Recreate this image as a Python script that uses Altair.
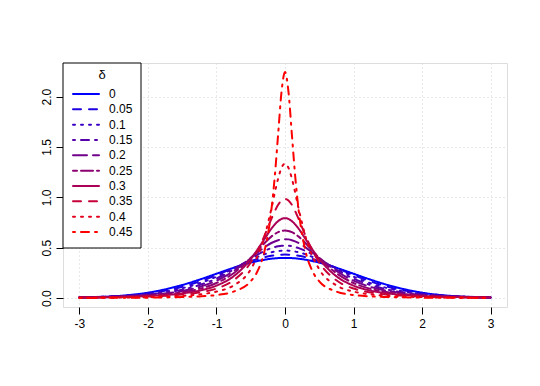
import altair as alt
import pandas as pd

# ---- data ----
DELTAS = ["0", "0.05", "0.1", "0.15", "0.2", "0.25", "0.3", "0.35", "0.4", "0.45"]

X_COMMON = [-3, -2.5, -2, -1.5, -1.25, -1, -0.75, -0.5, -0.3, -0.2, -0.1, -0.05, 0,
            0.05, 0.1, 0.2, 0.3, 0.5, 0.75, 1, 1.25, 1.5, 2, 2.5, 3]

Y_D000 = [0.004, 0.018, 0.054, 0.130, 0.183, 0.242, 0.301, 0.352, 0.381, 0.391, 0.397, 0.398, 0.399,
          0.398, 0.397, 0.391, 0.381, 0.352, 0.301, 0.242, 0.183, 0.130, 0.054, 0.018, 0.004]
Y_D005 = [0.007, 0.018, 0.048, 0.113, 0.165, 0.229, 0.299, 0.366, 0.406, 0.420, 0.429, 0.431, 0.432,
          0.431, 0.429, 0.420, 0.406, 0.366, 0.299, 0.229, 0.165, 0.113, 0.048, 0.018, 0.007]
Y_D010 = [0.008, 0.018, 0.042, 0.098, 0.147, 0.213, 0.294, 0.379, 0.435, 0.455, 0.467, 0.471, 0.472,
          0.471, 0.467, 0.455, 0.435, 0.379, 0.294, 0.213, 0.147, 0.098, 0.042, 0.018, 0.008]
Y_D015 = [0.008, 0.017, 0.036, 0.084, 0.129, 0.194, 0.284, 0.390, 0.468, 0.496, 0.515, 0.520, 0.521,
          0.520, 0.515, 0.496, 0.468, 0.390, 0.284, 0.194, 0.129, 0.084, 0.036, 0.017, 0.008]
Y_D020 = [0.008, 0.015, 0.031, 0.071, 0.111, 0.173, 0.269, 0.398, 0.504, 0.547, 0.575, 0.583, 0.585,
          0.583, 0.575, 0.547, 0.504, 0.398, 0.269, 0.173, 0.111, 0.071, 0.031, 0.015, 0.008]
Y_D025 = [0.007, 0.013, 0.026, 0.059, 0.092, 0.150, 0.247, 0.398, 0.545, 0.610, 0.655, 0.667, 0.671,
          0.667, 0.655, 0.610, 0.545, 0.398, 0.247, 0.150, 0.092, 0.059, 0.026, 0.013, 0.007]
Y_D030 = [0.006, 0.011, 0.021, 0.047, 0.074, 0.124, 0.217, 0.387, 0.586, 0.688, 0.764, 0.786, 0.793,
          0.786, 0.764, 0.688, 0.586, 0.387, 0.217, 0.124, 0.074, 0.047, 0.021, 0.011, 0.006]
Y_D035 = [0.005, 0.008, 0.016, 0.035, 0.056, 0.095, 0.177, 0.353, 0.618, 0.784, 0.926, 0.969, 0.984,
          0.969, 0.926, 0.784, 0.618, 0.353, 0.177, 0.095, 0.056, 0.035, 0.016, 0.008, 0.005]
Y_D040 = [0.003, 0.005, 0.010, 0.023, 0.037, 0.065, 0.126, 0.286, 0.609, 0.884, 1.187, 1.294, 1.334,
          1.294, 1.187, 0.884, 0.609, 0.286, 0.126, 0.065, 0.037, 0.023, 0.010, 0.005, 0.003]

X_D045 = [-3, -2.5, -2, -1.5, -1.25, -1, -0.75, -0.5, -0.4, -0.3, -0.2, -0.15, -0.1, -0.05, 0,
          0.05, 0.1, 0.15, 0.2, 0.3, 0.4, 0.5, 0.75, 1, 1.25, 1.5, 2, 2.5, 3]
Y_D045 = [0.002, 0.003, 0.005, 0.011, 0.017, 0.031, 0.065, 0.167, 0.269, 0.465, 0.868, 1.201, 1.628, 2.052, 2.243,
          2.052, 1.628, 1.201, 0.868, 0.465, 0.269, 0.167, 0.065, 0.031, 0.017, 0.011, 0.005, 0.003, 0.002]

X_TICKS = [-3, -2, -1, 0, 1, 2, 3]
Y_TICKS = [0, 0.5, 1, 1.5, 2]

COLORS = ["#0000FF", "#1C00E2", "#3800C6", "#5500AA", "#71008D",
          "#8D0071", "#AA0055", "#C60038", "#E2001C", "#FF0000"]
DASHES = [[1, 0], [8, 8], [2, 6], [2, 6, 8, 6], [14, 6], [4, 4, 12, 4],
          [1, 0], [8, 8], [2, 6], [2, 6, 8, 6]]

# ---- build long table ----
series = [
    (DELTAS[0], X_COMMON, Y_D000), (DELTAS[1], X_COMMON, Y_D005),
    (DELTAS[2], X_COMMON, Y_D010), (DELTAS[3], X_COMMON, Y_D015),
    (DELTAS[4], X_COMMON, Y_D020), (DELTAS[5], X_COMMON, Y_D025),
    (DELTAS[6], X_COMMON, Y_D030), (DELTAS[7], X_COMMON, Y_D035),
    (DELTAS[8], X_COMMON, Y_D040), (DELTAS[9], X_D045, Y_D045),
]
rows = []
for i, (d, xs, ys) in enumerate(series):
    for x, y in zip(xs, ys):
        rows.append({"delta": d, "k": i, "x": x, "y": y})
df = pd.DataFrame(rows)
leg = pd.DataFrame({"delta": DELTAS})

FONT = "Liberation Sans"
color = alt.Color("delta:N", scale=alt.Scale(domain=DELTAS, range=COLORS), legend=None)
dash = alt.StrokeDash("delta:N", scale=alt.Scale(domain=DELTAS, range=DASHES), legend=None)

curves = alt.Chart(df).mark_line(
    strokeWidth=2, interpolate="monotone", strokeCap="round", strokeJoin="round"
).encode(
    x=alt.X("x:Q", scale=alt.Scale(domain=[-3.24, 3.24], nice=False, zero=False),
            axis=alt.Axis(values=X_TICKS, labelExpr="'' + datum.value", title=None,
                          domain=False, tickColor="black", tickSize=7, tickWidth=1,
                          labelFontSize=12, labelFont=FONT, labelColor="black",
                          labelPadding=4, grid=True, gridColor="#D3D3D3", gridDash=[1, 3])),
    y=alt.Y("y:Q", scale=alt.Scale(domain=[-0.088, 2.333], nice=False, zero=False),
            axis=alt.Axis(values=Y_TICKS, format=".1f", title=None,
                          domain=False, tickColor="black", tickSize=7, tickWidth=1,
                          labelFontSize=12, labelFont=FONT, labelColor="black",
                          labelAngle=270, labelAlign="center", labelBaseline="bottom",
                          labelPadding=3, grid=True, gridColor="#D3D3D3", gridDash=[1, 3])),
    color=color,
    strokeDash=dash,
    detail="k:O",
)

legend_box = alt.Chart(alt.Data(values=[{}])).mark_rect(
    fill="white", stroke="black", strokeWidth=1
).encode(x=alt.value(0), x2=alt.value(78), y=alt.value(0), y2=alt.value(185))

ly = alt.Y("delta:N", scale=alt.Scale(type="point", domain=DELTAS, range=[31, 169], padding=0),
           axis=None)

legend_lines = alt.Chart(leg).mark_rule(strokeWidth=2, strokeCap="round").encode(
    x=alt.value(10), x2=alt.value(36), y=ly, color=color, strokeDash=dash
)
legend_text = alt.Chart(leg).mark_text(
    align="left", baseline="middle", fontSize=12, font=FONT, color="black"
).encode(x=alt.value(46), y=ly, text="delta:N")
legend_title = alt.Chart(alt.Data(values=[{}])).mark_text(
    text="δ", fontSize=13, font=FONT, color="black", align="center", baseline="middle"
).encode(x=alt.value(39), y=alt.value(12))

chart = alt.layer(curves, legend_box, legend_lines, legend_text, legend_title).resolve_scale(
    y="independent"
).properties(
    width=444, height=244, autosize="none",
    padding={"left": 55, "top": 55, "right": 25, "bottom": 71},
).configure_view(stroke="black", strokeWidth=1).configure(font=FONT, background="white")

chart.save("out.html", embed_options={"renderer": "svg", "actions": False})
